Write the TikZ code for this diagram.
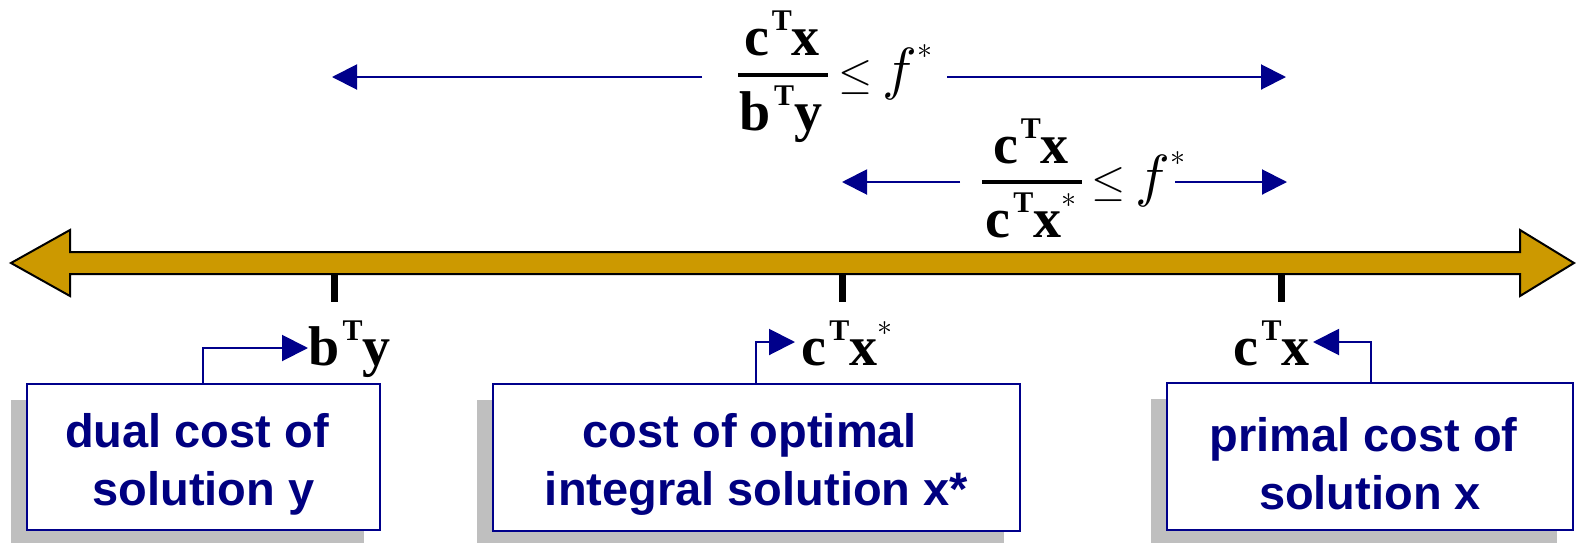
\documentclass[tikz,border=0pt]{standalone}
\usepackage{graphicx}
\usepackage{fontspec}
\setmainfont{Liberation Serif}
\newfontfamily\boxfont{Liberation Sans}
\usetikzlibrary{arrows.meta,shadows}
\definecolor{lineNavy}{RGB}{0,0,139}
\definecolor{textNavy}{RGB}{0,0,128}
\definecolor{gold}{RGB}{204,153,0}
\definecolor{shadowgray}{RGB}{191,191,191}
\newcommand{\supT}{\kern1.5pt\raisebox{12.5pt}{\fontsize{15}{15}\selectfont\bfseries T}}
\newcommand{\supStar}{\raisebox{15pt}{\fontsize{10}{12}\selectfont\scalebox{1.5}{$\ast$}}}
\newcommand{\bigtxt}{\fontsize{28}{30}\selectfont\bfseries}
\newcommand{\lef}{{\fontsize{10}{12}\selectfont\scalebox{2.2}{$\leq$}\hspace{5pt}\scalebox{2.9}{$f$}}\supStar}
\newcommand{\topstrut}{\rule{0pt}{24pt}}
\tikzset{
  boxst/.style={draw=lineNavy, line width=1pt, fill=white, inner sep=0pt,
    align=center, text=textNavy,
    font=\boxfont\bfseries\fontsize{23.5}{29}\selectfont,
    drop shadow={shadow xshift=-8pt, shadow yshift=-8pt, fill=shadowgray, opacity=1}},
  lbl/.style={inner sep=0pt, font=\bigtxt},
  conn/.style={draw=lineNavy, line width=1pt, -{Triangle[length=13pt,width=13pt]}},
  blarrow/.style={draw=lineNavy, line width=1pt, -{Triangle[length=12.5pt,width=12.5pt]}},
  fracbar/.style={draw=black, line width=2pt},
  tick/.style={draw=black, line width=3.5pt},
}
\begin{document}
\begin{tikzpicture}[x=0.5pt,y=-0.5pt]
\useasboundingbox (0,0) rectangle (1576,542);

% big double arrow
\draw[fill=gold, draw=black, line width=1pt, line join=miter]
  (11,263) -- (70,230) -- (70,252) -- (1520,252) -- (1520,230) -- (1574,263)
  -- (1520,296) -- (1520,274) -- (70,274) -- (70,296) -- cycle;

% ticks
\draw[tick] (334,274) -- (334,302);
\draw[tick] (842,274) -- (842,302);
\draw[tick] (1281,274) -- (1281,302);

% top fraction row 1
\node[lbl, anchor=base] (n1) at (782,55) {c\supT x};
\node[lbl, anchor=base] (d1) at (781,130) {b\supT y};
\draw[fracbar] (738,75) -- (828,75);
\node[inner sep=0pt, anchor=base west] (r1) at (838,88) {\lef};
\coordinate (s1l) at (702,77);
\coordinate (t1l) at (332,77);
\coordinate (s1r) at (947,77);
\coordinate (t1r) at (1286,77);
\draw[blarrow] (s1l) -- (t1l);
\draw[blarrow] (s1r) -- (t1r);

% top fraction row 2
\node[lbl, anchor=base] (n2) at (1031,163) {c\supT x};
\node[lbl, anchor=base] (d2) at (1031,237) {c\supT x\supStar};
\draw[fracbar] (982,182) -- (1082,182);
\node[inner sep=0pt, anchor=base west] (r2) at (1091,195) {\lef};
\coordinate (s2l) at (960,182);
\coordinate (t2l) at (842,182);
\coordinate (s2r) at (1175,182);
\coordinate (t2r) at (1287,182);
\draw[blarrow] (s2l) -- (t2l);
\draw[blarrow] (s2r) -- (t2r);

% boxes
\node[boxst, minimum width=176.5pt, minimum height=73pt] (b1) at (203.5,457)
  {\topstrut dual cost of\hspace*{0.28em}\\solution y};
\node[boxst, minimum width=263.5pt, minimum height=73.5pt] (b2) at (756.5,457.5)
  {\topstrut cost of optimal\hspace*{0.28em}\\integral solution x*};
\node[boxst, minimum width=203pt, minimum height=73.5pt] (b3) at (1370,456.5)
  {\topstrut primal cost of\hspace*{0.28em}\\solution x};

% labels under the axis
\node[lbl, anchor=base west] (l1) at (308,365) {b\supT y};
\node[lbl, anchor=base west] (l2) at (801,365) {c\supT x\supStar};
\node[lbl, anchor=base east] (l3) at (1310,365) {c\supT x};

% connectors
\coordinate (k1) at (203,348);
\coordinate (k2) at (756,342);
\coordinate (k3) at (1371,342);
\draw[conn] (b1.north -| k1) |- (l1.west |- k1);
\draw[conn] (b2.north -| k2) |- ([xshift=-3pt]l2.west |- k2);
\draw[conn] (b3.north -| k3) |- ([xshift=1.5pt]l3.east |- k3);
\end{tikzpicture}
\end{document}
